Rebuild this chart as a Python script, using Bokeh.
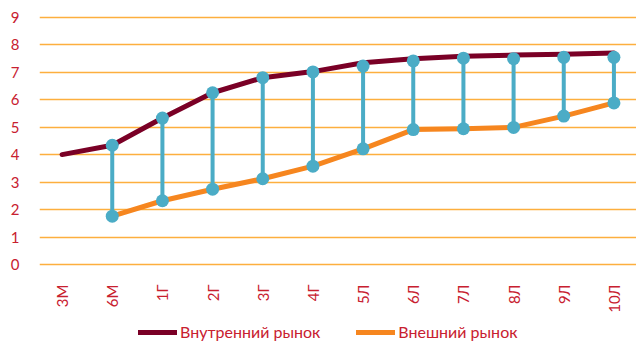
import math
from bokeh.plotting import figure
from bokeh.models import FactorRange, Range1d, Legend, LegendItem, ColumnDataSource
from bokeh.embed import file_html
from bokeh.resources import INLINE

periods = ["3М", "6М", "1Г", "2Г", "3Г", "4Г", "5Л", "6Л", "7Л", "8Л", "9Л", "10Л"]
domestic = [4.0, 4.34, 5.33, 6.25, 6.80, 7.02, 7.34, 7.49, 7.58, 7.62, 7.65, 7.70]
external = [float("nan"), 1.76, 2.32, 2.74, 3.12, 3.58, 4.21, 4.91, 4.94, 4.99, 5.40, 5.88]
range_top = [float("nan"), 4.34, 5.33, 6.25, 6.80, 7.01, 7.22, 7.41, 7.51, 7.49, 7.54, 7.54]
y_ticks = [0, 1, 2, 3, 4, 5, 6, 7, 8, 9]

RED = "#C8202F"
FONT = "Lato"

p = figure(
    frame_width=597, frame_height=329,
    x_range=FactorRange(*periods, range_padding=-0.05, range_padding_units="absolute"),
    y_range=Range1d(-2.802, 9.171),
    output_backend="svg", toolbar_location=None,
    min_border_left=39, min_border_right=0, min_border_top=12, min_border_bottom=0,
)
p.outline_line_color = None
p.background_fill_color = "white"
p.border_fill_color = "white"

# grid
p.xgrid.grid_line_color = None
p.ygrid.grid_line_color = "#FDAF3E"
p.ygrid.grid_line_width = 1.6
p.yaxis.ticker = y_ticks

for ax in (p.xaxis, p.yaxis):
    ax.axis_line_color = None
    ax.major_tick_line_color = None
    ax.minor_tick_line_color = None
    ax.major_tick_out = 0
    ax.major_tick_in = 0
    ax.major_label_text_color = RED
    ax.major_label_text_font = FONT
    ax.major_label_text_font_size = "15px"

p.yaxis.major_label_standoff = 20
p.xaxis.fixed_location = 0
p.xaxis.major_label_standoff = 20
p.xaxis.major_label_orientation = math.pi / 2

src = ColumnDataSource(dict(x=periods, dom=domestic, ext=external, top=range_top))

r_dom = p.line("x", "dom", source=src, line_color="#7A0026", line_width=5,
               line_join="round", line_cap="round")
r_ext = p.line("x", "ext", source=src, line_color="#F6861F", line_width=5,
               line_join="round", line_cap="round")

p.segment(x0="x", y0="ext", x1="x", y1="top", source=src,
          line_color="#4BACC6", line_width=4)
p.scatter("x", "top", source=src, size=13, fill_color="#4BACC6", line_color=None)
p.scatter("x", "ext", source=src, size=13, fill_color="#4BACC6", line_color=None)

legend = Legend(
    items=[LegendItem(label="Внутренний рынок", renderers=[r_dom]),
           LegendItem(label="Внешний рынок", renderers=[r_ext])],
    orientation="horizontal", location=(99, 0),
    border_line_color=None, background_fill_alpha=0,
    label_text_color=RED, label_text_font=FONT, label_text_font_size="16px",
    glyph_width=39, glyph_height=16, label_height=18, label_standoff=3, spacing=36,
    padding=0, margin=0,
)
p.add_layout(legend, "center")

open("out.html", "w").write(file_html(p, INLINE))
